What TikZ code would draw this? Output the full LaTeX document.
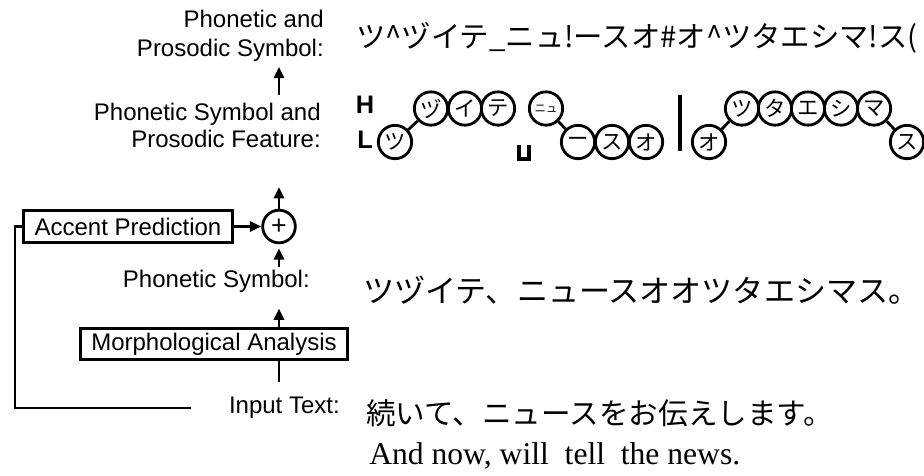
\documentclass[tikz,border=0pt]{standalone}
\usepackage{fontspec}
\setmainfont{Liberation Sans}
\newfontfamily\jpfont{Noto Sans CJK JP}
\newfontfamily\seriffont{Liberation Serif}
\usetikzlibrary{arrows.meta}

\begin{document}
\begin{tikzpicture}[x=0.75pt,y=-0.75pt,
  lbl/.style={font=\fontsize{18}{22}\selectfont, align=right, anchor=east, inner sep=0pt},
  procbox/.style={draw, line width=2.2pt, font=\fontsize{18}{22}\selectfont,
    inner xsep=8pt, inner ysep=0pt, minimum height=23.5pt},
  flow/.style={line width=2.1pt},
  arr/.style={flow, -{Triangle[length=8.5pt,width=7.5pt]}},
  jptext/.style={font=\jpfont\fontsize{22.5}{24}\selectfont, anchor=west, inner sep=0pt},
  kana/.style={circle, draw, line width=2.1pt, minimum size=25pt, inner sep=0pt,
    font=\jpfont\fontsize{16}{16}\selectfont},
  level/.style={font=\bfseries\fontsize{19}{19}\selectfont, inner sep=0pt},
  sumnode/.style={circle, draw, line width=2.1pt, minimum size=24.5pt, inner sep=0pt,
    font=\fontsize{20}{20}\selectfont},
]
\useasboundingbox (0,0) rectangle (924,475);

% ---- left column: labels and processing blocks ----
\node[lbl, font=\fontsize{18}{21.75}\selectfont] (pps) at (324,35.5) {Phonetic and\\Prosodic Symbol:};
\node[lbl, font=\fontsize{18}{20.25}\selectfont] (psf) at (321,125.5) {Phonetic Symbol and\\Prosodic Feature:};
\node[sumnode] (plus) at (279,226.5) {+};
\coordinate (sumout) at (279,187);
\node[procbox] (acc) at (128,226.5) {Accent Prediction};
\node[lbl] (ps) at (310,281) {Phonetic Symbol:};
\node[procbox] (morph) at (214,344) {Morphological Analysis};
\node[lbl] (in) at (340,408) {Input Text:};
\coordinate (fbk) at (15,300);

% ---- connectors ----
\draw[arr, shorten <=6pt, shorten >=4pt] (psf.north -| plus) -- (pps.south -| plus);
\draw[arr] (plus) -- (sumout);
\draw[arr] (acc) -- (plus);
\draw[arr, shorten <=2pt, shorten >=3pt] (ps.north -| plus) -- (plus.south);
\draw[arr, shorten >=12pt] (morph.north -| plus) -- (ps.south -| plus);
\draw[flow, shorten <=11pt] (in.north -| plus) -- (morph.south -| plus);
\draw[flow, shorten <=28pt, line join=miter] (in.west) -- (in.west -| fbk) |- (acc.west);

% ---- right column: symbol strings ----
\node[jptext, font=\jpfont\fontsize{22}{24}\selectfont] (ppsT) at (356,38)
  {ツ\textasciicircum ヅイテ\_ニュ!ースオ\#オ\textasciicircum ツタエシマ!ス(};
\node[jptext, font=\jpfont\fontsize{23.3}{25}\selectfont] (psT) at (363,290) {ツヅイテ、ニュースオオツタエシマス。};
\node[jptext, font=\jpfont\fontsize{22.2}{24}\selectfont] (inT) at (366,413) {続いて、ニュースをお伝えします。};
\node[font=\seriffont\fontsize{23.7}{25}\selectfont, anchor=west, inner sep=0pt] (enT)
  at (369,456) {And now, will\ \ tell\ \ the news.};

% ---- accent levels ----
\node[level] (hH) at (365,105) {H};
\node[level] (hL) at (365,140) {L};

% first accent phrase
\node[kana] (k1) at (395,142) {ツ};
\node[kana] (k2) at (431,108.5) {ヅ};
\node[kana] (k3) at (465,108.5) {イ};
\node[kana] (k4) at (498,108.5) {テ};
% second accent phrase
\node[kana, font=\jpfont\fontsize{8.5}{8.5}\selectfont] (k5) at (546,108.5) {ニュ};
\node[kana] (k6) at (578,142) {ー};
\node[kana] (k7) at (612,142) {ス};
\node[kana] (k8) at (646,142) {オ};
% third accent phrase
\node[kana] (k9) at (709,142) {オ};
\node[kana] (k10) at (742,108.5) {ツ};
\node[kana] (k11) at (775,108.5) {タ};
\node[kana] (k12) at (808,108.5) {エ};
\node[kana] (k13) at (841,108.5) {シ};
\node[kana] (k14) at (874,108.5) {マ};
\node[kana] (k15) at (907,142) {ス};

\draw[flow] (k1) -- (k2);
\draw[flow] (k5) -- (k6);
\draw[flow] (k9) -- (k10);
\draw[flow] (k14) -- (k15);

% pause marks
\draw[line width=3pt, line join=miter] (519,145) -- (519,159) -- (529,159) -- (529,145);
\draw[line width=2.4pt] (680,95) -- (680,151);
\end{tikzpicture}
\end{document}
